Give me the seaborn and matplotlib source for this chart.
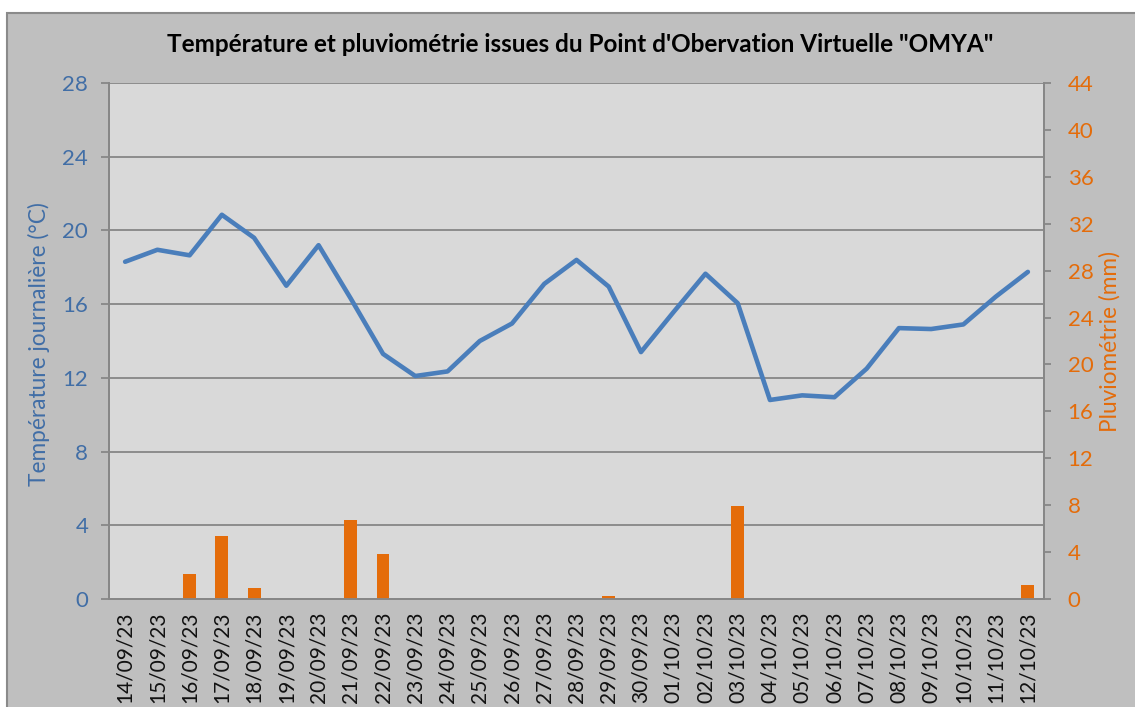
import matplotlib
matplotlib.use("Agg")
import matplotlib.pyplot as plt
from matplotlib.patches import Rectangle
import numpy as np
import pandas as pd
import seaborn as sns

# daily values
dates = ["14/09/23", "15/09/23", "16/09/23", "17/09/23", "18/09/23", "19/09/23",
         "20/09/23", "21/09/23", "22/09/23", "23/09/23", "24/09/23", "25/09/23",
         "26/09/23", "27/09/23", "28/09/23", "29/09/23", "30/09/23", "01/10/23",
         "02/10/23", "03/10/23", "04/10/23", "05/10/23", "06/10/23", "07/10/23",
         "08/10/23", "09/10/23", "10/10/23", "11/10/23", "12/10/23"]
temperature = [18.3, 18.95, 18.65, 20.85, 19.6, 17.0, 19.2, 16.3, 13.3, 12.1,
               12.35, 14.0, 14.95, 17.1, 18.4, 16.95, 13.4, 15.55, 17.65, 16.05,
               10.8, 11.05, 10.95, 12.5, 14.7, 14.65, 14.9, 16.4, 17.75]
rain = [0, 0, 2.1, 5.4, 0.9, 0, 0, 6.7, 3.8, 0, 0, 0, 0, 0, 0, 0.25, 0, 0, 0,
        7.9, 0, 0, 0, 0, 0, 0, 0, 0, 1.2]

df = pd.DataFrame({"jour": np.arange(len(dates)), "date": dates,
                   "temp": temperature, "pluie": rain})

blue = "#4a7ebb"
blue_txt = "#416ea6"
orange = "#e46c0a"
grey = "#878787"

sns.set_style("white")
plt.rcParams["font.family"] = ["Lato", "DejaVu Sans"]

fig = plt.figure(figsize=(11.35, 7.07), dpi=100)
fig.patch.set_facecolor("white")
# grey chart area with its border, kept behind the axes
fig.patches.append(Rectangle((7 / 1135, -0.01), 1.0, 1 - 13 / 707 + 0.01,
                             transform=fig.transFigure, facecolor="#bfbfbf",
                             edgecolor="#8a8a8a", linewidth=1.5, zorder=-5))

ax = fig.add_axes([109 / 1135, 1 - 599 / 707, (1044 - 109) / 1135, (599 - 83) / 707])
ax.set_facecolor("#d9d9d9")
ax2 = ax.twinx()

sns.lineplot(data=df, x="jour", y="temp", ax=ax, color=blue, linewidth=3.3,
             legend=False)
sns.barplot(data=df, x="jour", y="pluie", ax=ax2, color=orange, width=0.4,
            saturation=1, native_scale=True, linewidth=0)

ax.set_xlim(-0.5, len(dates) - 0.5)
ax.set_ylim(0, 28)
ax.set_yticks(np.arange(0, 29, 4))
ax2.set_ylim(0, 44)
ax2.set_yticks(np.arange(0, 45, 4))

ax.set_xticks(df["jour"])
ax.set_xticklabels(dates, rotation=90, fontsize=15, color="#111111")
ax.set_xticks(np.arange(-0.5, len(dates)), minor=True)
ax.tick_params(axis="x", which="major", length=0, pad=9)
ax.tick_params(axis="x", which="minor", length=6, width=1.3, color=grey)
ax2.tick_params(axis="x", length=0)

ax.tick_params(axis="y", length=6, width=1.3, color=grey, labelsize=16,
               labelcolor=blue_txt, pad=9)
ax2.tick_params(axis="y", length=5, width=1.3, color=grey, labelsize=16,
                labelcolor=orange, pad=12)

ax.yaxis.grid(True, color=grey, linewidth=1.3)
ax.set_axisbelow(True)

for a in (ax, ax2):
    a.spines["top"].set_visible(False)
    for s in ("left", "right", "bottom"):
        a.spines[s].set_color(grey)
        a.spines[s].set_linewidth(1.3)

ax.set_xlabel("")
ax.set_ylabel("")
ax2.set_xlabel("")
ax2.set_ylabel("")
fig.text(39 / 1135, 1 - 344 / 707, "Température journalière (°C)", rotation=90,
         ha="center", va="center", fontsize=16.3, color=blue_txt)
fig.text(1110 / 1135, 1 - 341 / 707, "Pluviométrie (mm)", rotation=90,
         ha="center", va="center", fontsize=16.3, color=orange)
fig.text(580 / 1135, 1 - 45 / 707,
         "Température et pluviométrie issues du Point d'Obervation Virtuelle \"OMYA\"",
         ha="center", va="center", fontsize=17.5, fontweight="bold", color="black")

fig.savefig("out.png", dpi=100, facecolor=fig.get_facecolor())
